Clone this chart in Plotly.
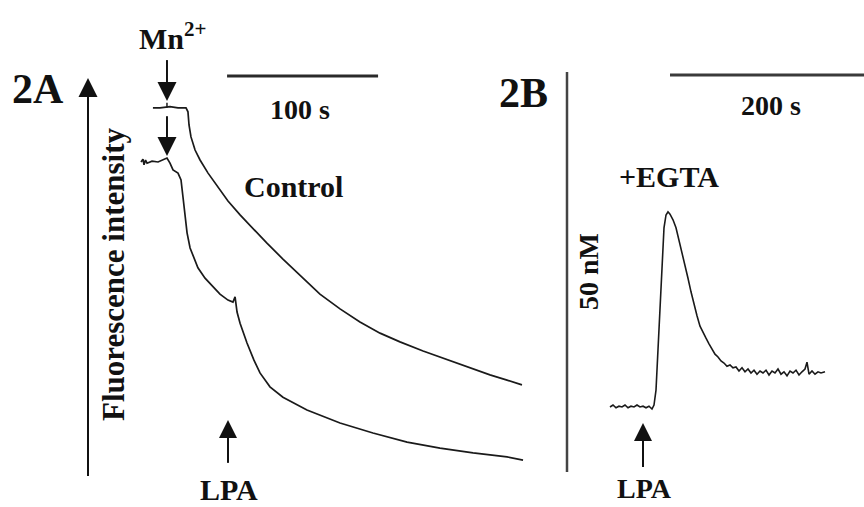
import plotly.graph_objects as go

# ---------------- Data ----------------
# Panel 2A: time (s) and fluorescence intensity (a.u.)
lpa_t = [0, 1.3, 2.0, 3.0, 4.0, 7.3, 11.3, 14.6, 17.2, 19.2, 21.2, 24.5, 26.5, 27.8, 29.1, 30.5,
         32.5, 34.4, 37.7, 42.4, 47.7, 52.3, 57.6, 60.9, 62.3, 63.6, 65.6, 70.2, 74.8, 78.8,
         85.4, 94.0, 109.9, 131.8, 153.6, 176.2, 198.0, 219.9, 242.4, 253.0]
lpa_i = [78.9, 79.6, 78.2, 79.4, 78.6, 79.1, 78.9, 79.4, 79.9, 78.6, 76.9, 76.1, 74.4, 70.1, 65.6, 61.1,
         57.3, 55.3, 52.3, 49.7, 47.5, 45.7, 44.2, 43.7, 45.0, 41.2, 38.4, 33.4, 29.1, 25.9,
         22.4, 19.8, 16.6, 13.3, 10.8, 8.5, 7.0, 5.8, 4.8, 4.0]

ctrl_t = [7.9, 12.6, 19.2, 24.5, 29.8, 31.1, 31.8, 33.1, 35.8, 39.1, 44.4, 50.3, 57.6, 65.6,
          74.2, 83.4, 94.0, 105.3, 118.5, 131.8, 145.0, 158.3, 171.5, 186.8, 201.3, 215.9,
          231.1, 242.4, 252.3]
ctrl_i = [92.5, 92.5, 92.8, 92.5, 92.5, 91.5, 88.2, 85.2, 81.9, 79.4, 76.1, 72.9, 69.1, 65.6,
          62.1, 58.5, 54.5, 50.5, 45.7, 42.0, 38.7, 35.9, 33.7, 31.4, 29.4, 27.4,
          25.4, 24.1, 22.9]

# Panel 2B: time (s) and change in [Ca2+]i (nM), +EGTA
egta_t = [0, 3, 6, 9, 12, 15, 18, 21, 24, 27, 30, 33, 36, 39, 42, 44, 46, 48, 50, 52, 54, 56,
          58, 60, 63, 66, 69, 72, 75, 78, 81, 84, 87, 90, 93, 96, 99, 102, 105, 108, 111, 114,
          117, 120, 123, 126, 129, 132, 135, 138, 141, 144, 147, 150, 153, 156, 159, 162, 165,
          168, 171, 174, 177, 180, 183, 186, 189, 192, 195, 197, 199, 202, 205, 208, 211, 215]
egta_ca = [0, 0.25, -0.1, 0.1, 0, 0.25, -0.1, 0.1, 0, 0.25, 0, 0.1, -0.1, 0.1, -0.25, 0.25,
           2.1, 7.1, 13.4, 18.4, 22.4, 24.0, 24.4, 24.1, 23.4, 22.4, 20.9, 19.4, 17.75, 16.1,
           14.4, 12.75, 11.4, 10.1, 9.25, 8.6, 7.9, 7.25, 6.6, 6.25, 5.75, 5.5, 5.1, 5.25, 4.9,
           5.0, 4.5, 4.9, 4.4, 4.75, 4.25, 4.6, 4.1, 4.5, 4.25, 4.6, 4.0, 4.5, 4.25, 4.75, 4.1,
           4.4, 3.9, 4.5, 4.25, 4.6, 4.0, 4.4, 4.75, 5.6, 4.1, 4.5, 4.1, 4.4, 4.25, 4.4]

# Event times / scale bars
mn_time_a = 17.2       # s, Mn2+ addition (panel A)
lpa_time_a = 57.6      # s, LPA addition (panel A)
lpa_time_b = 33.0      # s, LPA addition (panel B)
scale_a_s = 100        # s
scale_b_s = 200        # s
scale_b_nm = 50        # nM

# ---------------- Layout constants ----------------
W, H = 864, 507
FONT = "Liberation Serif"
INK = "#1a1a1a"

xa_range = [-93.38, 267.10]
ya_range = [-7.789, 119.598]
xb_range = [-65.68, 254.0]
yb_range = [-12.5, 50.875]

fig = go.Figure()
fig.add_trace(go.Scatter(x=ctrl_t, y=ctrl_i, mode="lines", line=dict(color=INK, width=1.7),
                         xaxis="x", yaxis="y", hoverinfo="skip"))
fig.add_trace(go.Scatter(x=lpa_t, y=lpa_i, mode="lines", line=dict(color=INK, width=1.7),
                         xaxis="x", yaxis="y", hoverinfo="skip"))
fig.add_trace(go.Scatter(x=egta_t, y=egta_ca, mode="lines", line=dict(color=INK, width=1.6),
                         xaxis="x2", yaxis="y2", hoverinfo="skip"))


def add_arrow(xa, ya, x, y_tail, y_tip, head_len, symbol, size, width=2):
    """Vertical arrow: shaft from tail toward tip, arrowhead marker with its point at tip."""
    shaft_end = y_tip - head_len if y_tail < y_tip else y_tip + head_len
    fig.add_trace(go.Scatter(x=[x, x], y=[y_tail, shaft_end], mode="lines",
                             line=dict(color="#111111", width=width),
                             xaxis=xa, yaxis=ya, hoverinfo="skip"))
    fig.add_trace(go.Scatter(x=[x], y=[y_tip], mode="markers",
                             marker=dict(symbol=symbol, size=size, color="#111111",
                                         line=dict(width=0)),
                             xaxis=xa, yaxis=ya, hoverinfo="skip"))


# intensity axis arrow (panel A), 0 -> 100 a.u.
add_arrow("x", "y", -35.1, 0, 100, 3.0, "arrow-up", 19, 2)
# Mn2+ arrows (panel A)
add_arrow("x", "y", mn_time_a, 104.5, 94.2, 3.0, "arrow-down", 19, 2)
add_arrow("x", "y", mn_time_a, 90.4, 80.4, 3.0, "arrow-down", 19, 2)
# LPA arrows
add_arrow("x", "y", lpa_time_a, 3.3, 14.1, 3.0, "arrow-up", 18, 2)
add_arrow("x2", "y2", lpa_time_b, -7.5, -2.0, 1.5, "arrow-up", 18, 2)


def px(x):
    return x / W


def py(y):
    return 1 - y / H


shapes = [
    # 100 s scale bar (panel A)
    dict(type="line", xref="x", yref="paper", x0=57.0, x1=57.0 + scale_a_s,
         y0=py(76), y1=py(76), line=dict(color="#2a2a2a", width=3)),
    # 200 s scale bar (panel B)
    dict(type="line", xref="x2", yref="paper", x0=60.0, x1=60.0 + scale_b_s,
         y0=py(75), y1=py(75), line=dict(color="#3a3a3a", width=3)),
    # 50 nM vertical bar (panel B)
    dict(type="line", xref="x2", yref="y2", x0=-43, x1=-43, y0=-8.125, y1=-8.125 + scale_b_nm,
         line=dict(color="#444444", width=2.5)),
    # small mark on control baseline at Mn addition
    dict(type="line", xref="x", yref="y", x0=mn_time_a, x1=mn_time_a, y0=92.5, y1=93.8,
         line=dict(color=INK, width=1.5)),
]


def txt(text, x, y, size=30, angle=0):
    return dict(text=text, x=px(x), y=py(y), xref="paper", yref="paper", showarrow=False,
                xanchor="center", yanchor="middle", textangle=angle,
                font=dict(family=FONT, size=size, color="#111111", weight="bold"))


annotations = [
    txt("2A", 38, 89, 42),
    txt("2B", 523, 93, 42),
    txt("Mn<sup>2+</sup>", 172, 36, 30),
    txt("100 s", 300, 109, 28),
    txt("Control", 293, 186, 30),
    txt("Fluorescence intensity", 113, 274, 31, -90),
    txt("LPA", 229, 489, 30),
    txt("200 s", 771, 106, 28),
    txt("+EGTA", 669, 176, 30),
    txt("50 nM", 588, 272, 28, -90),
    txt("LPA", 644, 488, 28),
]

fig.update_layout(
    width=W, height=H,
    margin=dict(l=0, r=0, t=0, b=0),
    paper_bgcolor="white", plot_bgcolor="rgba(0,0,0,0)",
    showlegend=False,
    xaxis=dict(domain=[0, 0.63], range=xa_range, visible=False, fixedrange=True),
    yaxis=dict(domain=[0, 1], range=ya_range, visible=False, fixedrange=True),
    xaxis2=dict(domain=[0.63, 1], range=xb_range, visible=False, anchor="y2", fixedrange=True),
    yaxis2=dict(domain=[0, 1], range=yb_range, visible=False, anchor="x2", fixedrange=True),
    shapes=shapes,
    annotations=annotations,
)

fig.write_html("out.html")
